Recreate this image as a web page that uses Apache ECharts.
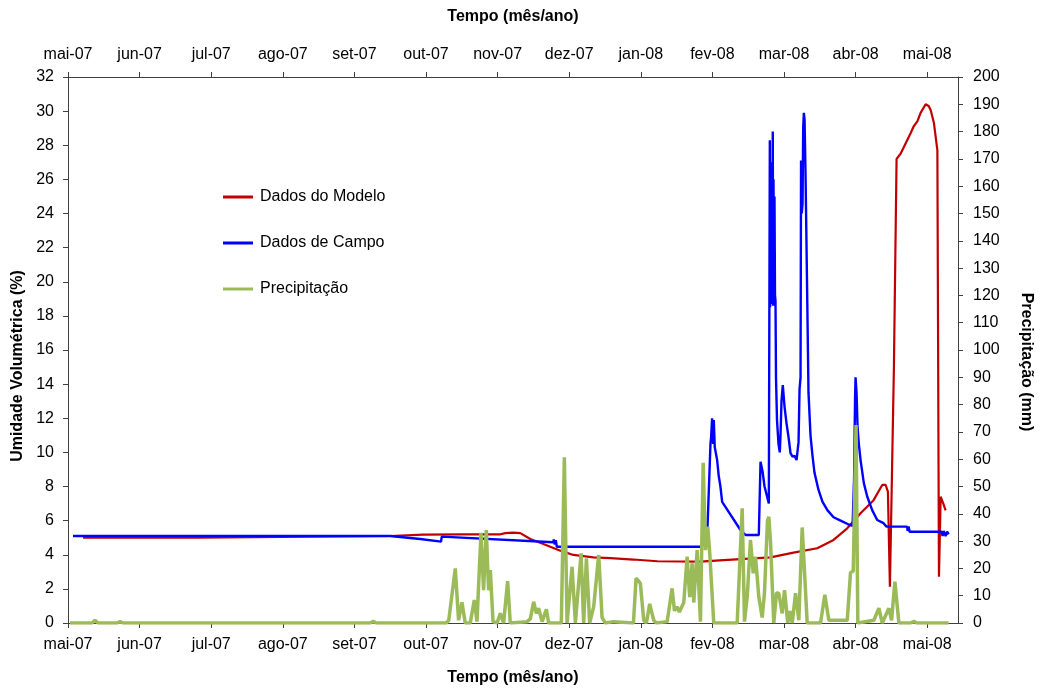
<!DOCTYPE html>
<html>
<head>
<meta charset="utf-8">
<script src="https://cdn.jsdelivr.net/npm/echarts@6/dist/echarts.min.js"></script>
<style>
html,body{margin:0;padding:0;background:#fff;}
#chart{width:1042px;height:693px;}
</style>
</head>
<body>
<div id="chart"></div>
<script>
// Month tick labels (x value = months since 1 May 2007)
const monthLabels = ['mai-07','jun-07','jul-07','ago-07','set-07','out-07','nov-07','dez-07','jan-08','fev-08','mar-08','abr-08','mai-08'];

// Dados do Modelo: [months since mai-07, umidade %]
const modelData = [
[0.210,5.0],[1.817,5.0],[1.824,5.1],[4.500,5.1],[4.962,5.18],[5.521,5.2],[6.038,5.2],[6.108,5.27],[6.219,5.3],[6.317,5.27],
[6.457,4.92],[6.639,4.63],[6.876,4.24],[7.058,3.99],[7.338,3.85],[7.576,3.8],[7.897,3.72],[8.232,3.62],[8.833,3.6],[9.154,3.69],
[9.811,3.85],[10.133,4.12],[10.464,4.38],[10.692,4.87],[10.883,5.55],[11.069,6.43],[11.251,7.2],[11.372,8.09],[11.419,8.09],[11.451,7.7],
[11.479,2.13],[11.535,15],[11.572,27.2],[11.628,27.5],[11.698,28.1],[11.768,28.7],[11.810,29.1],[11.862,29.4],[11.908,29.9],[11.978,30.4],
[12.020,30.3],[12.048,30.07],[12.094,29.3],[12.142,27.7],[12.164,2.71],[12.188,7.4],[12.225,7.0],[12.257,6.6]
];

// Dados de Campo: [months since mai-07, umidade %]
const fieldData = [
[0.07,5.1],[4.50,5.1],[4.92,4.92],[5.21,4.77],[5.22,5.06],[6.778,4.73],[6.785,4.9],[6.799,4.6],[6.813,4.85],[6.827,4.47],
[8.833,4.47],[8.861,4.57],[8.927,5.06],[8.949,5.1],[8.973,10.5],[8.982,10.9],[8.996,12.0],[9.010,10.5],[9.019,11.9],[9.033,10.3],
[9.066,9.55],[9.089,8.6],[9.112,8.0],[9.136,7.1],[9.392,5.45],[9.462,5.16],[9.648,5.16],[9.672,9.45],[9.700,8.9],[9.728,8.0],
[9.788,7.0],[9.802,28.3],[9.806,18.5],[9.811,26.5],[9.816,19.0],[9.822,27.0],[9.827,18.7],[9.832,25.5],[9.837,19.0],[9.843,28.8],
[9.848,18.6],[9.853,26.0],[9.860,18.8],[9.867,25.0],[9.874,19.2],[9.881,18.9],[9.888,14.4],
[9.902,11.9],[9.923,10.5],[9.941,10.0],[9.951,11.0],[9.965,13.0],[9.983,13.95],[10.007,12.7],[10.035,11.7],[10.063,10.9],[10.091,9.95],
[10.119,9.75],[10.147,9.8],[10.175,9.55],[10.193,9.55],[10.203,10.6],[10.217,13.7],[10.231,14.4],[10.238,27.1],[10.248,24.0],[10.259,24.6],[10.268,29.0],[10.277,29.9],
[10.287,29.5],[10.301,26.2],[10.315,21.9],[10.329,17.6],[10.342,13.5],[10.370,11.0],[10.398,9.8],[10.426,8.8],[10.482,7.8],[10.538,7.1],
[10.608,6.6],[10.692,6.2],[10.790,6.0],[10.888,5.8],[10.958,5.7],[10.979,8.5],[10.992,13.1],[10.999,14.4],[11.013,13.5],[11.027,11.5],
[11.045,10.5],[11.069,9.55],[11.115,8.2],[11.163,7.4],[11.233,6.6],[11.302,6.04],[11.390,5.85],[11.432,5.65],[11.719,5.65],[11.726,5.4],
[11.740,5.65],[11.754,5.35],[12.201,5.35],[12.215,5.1],[12.229,5.4],[12.257,5.1],[12.278,5.35],[12.299,5.2]
];

// Precipitação: [months since mai-07, mm]
const precipData = [
[0.028,0],[0.335,0],[0.377,1.0],[0.419,0],[0.685,0],[0.727,0.5],[0.769,0],[4.221,0],[4.263,0.6],[4.305,0],
[5.283,0],[5.318,1],[5.409,20],[5.455,1],[5.502,7.6],[5.548,0],[5.618,0],[5.674,8.4],[5.712,0.5],[5.768,33],
[5.804,12],[5.842,34],[5.874,12],[5.898,19.4],[5.936,0.5],[5.992,0],[6.038,3.5],[6.084,0],[6.140,15.3],[6.177,0],
[6.411,0.5],[6.457,1.5],[6.503,7.8],[6.541,3.5],[6.573,5.4],[6.621,0.5],[6.681,5.0],[6.713,0],[6.890,0],[6.932,60.7],
[6.970,0],[7.040,20.6],[7.086,0],[7.166,25.5],[7.202,0],[7.240,23.7],[7.286,0],[7.342,6],[7.412,24.9],[7.459,2],
[7.505,0],[7.621,0.5],[7.897,0],[7.934,16.4],[7.966,15.5],[7.994,14.5],[8.041,1],[8.078,0],[8.124,7],[8.180,1],
[8.218,0],[8.368,0.5],[8.437,12.7],[8.470,4.5],[8.507,6],[8.539,4],[8.600,7.5],[8.647,24.3],[8.683,9.5],[8.717,21.9],
[8.739,7.5],[8.787,26.7],[8.833,0.5],[8.871,58.7],[8.903,26.7],[8.935,35.3],[8.963,25.5],[9.019,0],[9.346,0],[9.416,42],
[9.448,0.5],[9.486,9.6],[9.532,30.4],[9.570,18.2],[9.602,24.3],[9.648,9.6],[9.695,2],[9.727,10.9],[9.769,37.5],[9.788,38.9],
[9.811,30],[9.857,0],[9.895,11],[9.927,10.9],[9.975,3.5],[10.007,12],[10.053,0],[10.081,4.4],[10.115,0],[10.161,10.9],
[10.207,1],[10.254,35],[10.277,35],[10.324,0],[10.510,0],[10.570,10.3],[10.626,1],[10.883,1],[10.929,18.5],[10.967,19],
[11.006,72.5],[11.031,0],[11.255,1],[11.325,5.4],[11.372,0],[11.465,5.4],[11.502,1],[11.549,15.1],[11.604,0],[11.768,0],
[11.814,0.6],[11.852,0],[12.299,0]
];

const FONT = '"Liberation Sans", Arial, sans-serif';
const axisColor = '#404040';
const chart = echarts.init(document.getElementById('chart'), null, {renderer:'canvas'});

function xLabel(v){
  const r = Math.round(v);
  return Math.abs(v - r) < 1e-6 && monthLabels[r] ? monthLabels[r] : '';
}
const xCommon = {
  type:'value', min:0, max:12.43, interval:1,
  axisLine:{show:true, onZero:false, lineStyle:{color:axisColor, width:1}},
  axisTick:{show:true, length:5, lineStyle:{color:axisColor}},
  splitLine:{show:false},
  axisLabel:{formatter:xLabel, color:'#000', fontSize:16, fontFamily:FONT, margin:14, showMaxLabel:false},
  name:'Tempo (mês/ano)', nameLocation:'middle',
  nameTextStyle:{fontWeight:'bold', fontSize:16, color:'#000', fontFamily:FONT}
};

chart.setOption({
  animation:false,
  backgroundColor:'#fff',
  grid:{left:68, right:84, top:77, bottom:70, containLabel:false},
  legend:{
    orient:'vertical', left:218, top:183, itemWidth:30, itemHeight:3, itemGap:28,
    icon:'rect', itemStyle:{borderWidth:0},
    textStyle:{fontSize:16, color:'#000', fontFamily:FONT, lineHeight:18, padding:[0,0,0,2]},
    data:['Dados do Modelo','Dados de Campo','Precipitação']
  },
  xAxis:[
    Object.assign({}, xCommon, {position:'bottom', nameGap:47}),
    Object.assign({}, xCommon, {position:'top', nameGap:52})
  ],
  yAxis:[
    {type:'value', min:0, max:32, interval:2, position:'left',
     axisLine:{show:true, onZero:false, lineStyle:{color:axisColor}},
     axisTick:{show:true, length:5, lineStyle:{color:axisColor}},
     splitLine:{show:false},
     axisLabel:{color:'#000', fontSize:16, fontFamily:FONT, margin:14}},
    {type:'value', min:0, max:200, interval:10, position:'right',
     axisLine:{show:true, onZero:false, lineStyle:{color:axisColor}},
     axisTick:{show:true, length:5, lineStyle:{color:axisColor}},
     splitLine:{show:false},
     axisLabel:{color:'#000', fontSize:16, fontFamily:FONT, margin:15}}
  ],
  graphic:[
    {type:'text', x:18, y:366, rotation:Math.PI/2,
     style:{text:'Umidade Volumétrica (%)', fontSize:16, fontWeight:'bold', fontFamily:FONT, fill:'#000', textAlign:'center', textVerticalAlign:'middle'}},
    {type:'text', x:1026, y:362, rotation:-Math.PI/2,
     style:{text:'Precipitação (mm)', fontSize:16, fontWeight:'bold', fontFamily:FONT, fill:'#000', textAlign:'center', textVerticalAlign:'middle'}}
  ],
  series:[
    {name:'Dados do Modelo', type:'line', xAxisIndex:0, yAxisIndex:0, data:modelData,
     symbol:'none', showSymbol:false, color:'#C00000', lineStyle:{color:'#C00000', width:2.2}},
    {name:'Dados de Campo', type:'line', xAxisIndex:0, yAxisIndex:0, data:fieldData,
     symbol:'none', showSymbol:false, color:'#0000FF', lineStyle:{color:'#0000FF', width:2.4}},
    {name:'Precipitação', type:'line', xAxisIndex:0, yAxisIndex:1, data:precipData,
     symbol:'none', showSymbol:false, color:'#9BBB59', lineStyle:{color:'#9BBB59', width:3.5}}
  ]
});
</script>
</body>
</html>
